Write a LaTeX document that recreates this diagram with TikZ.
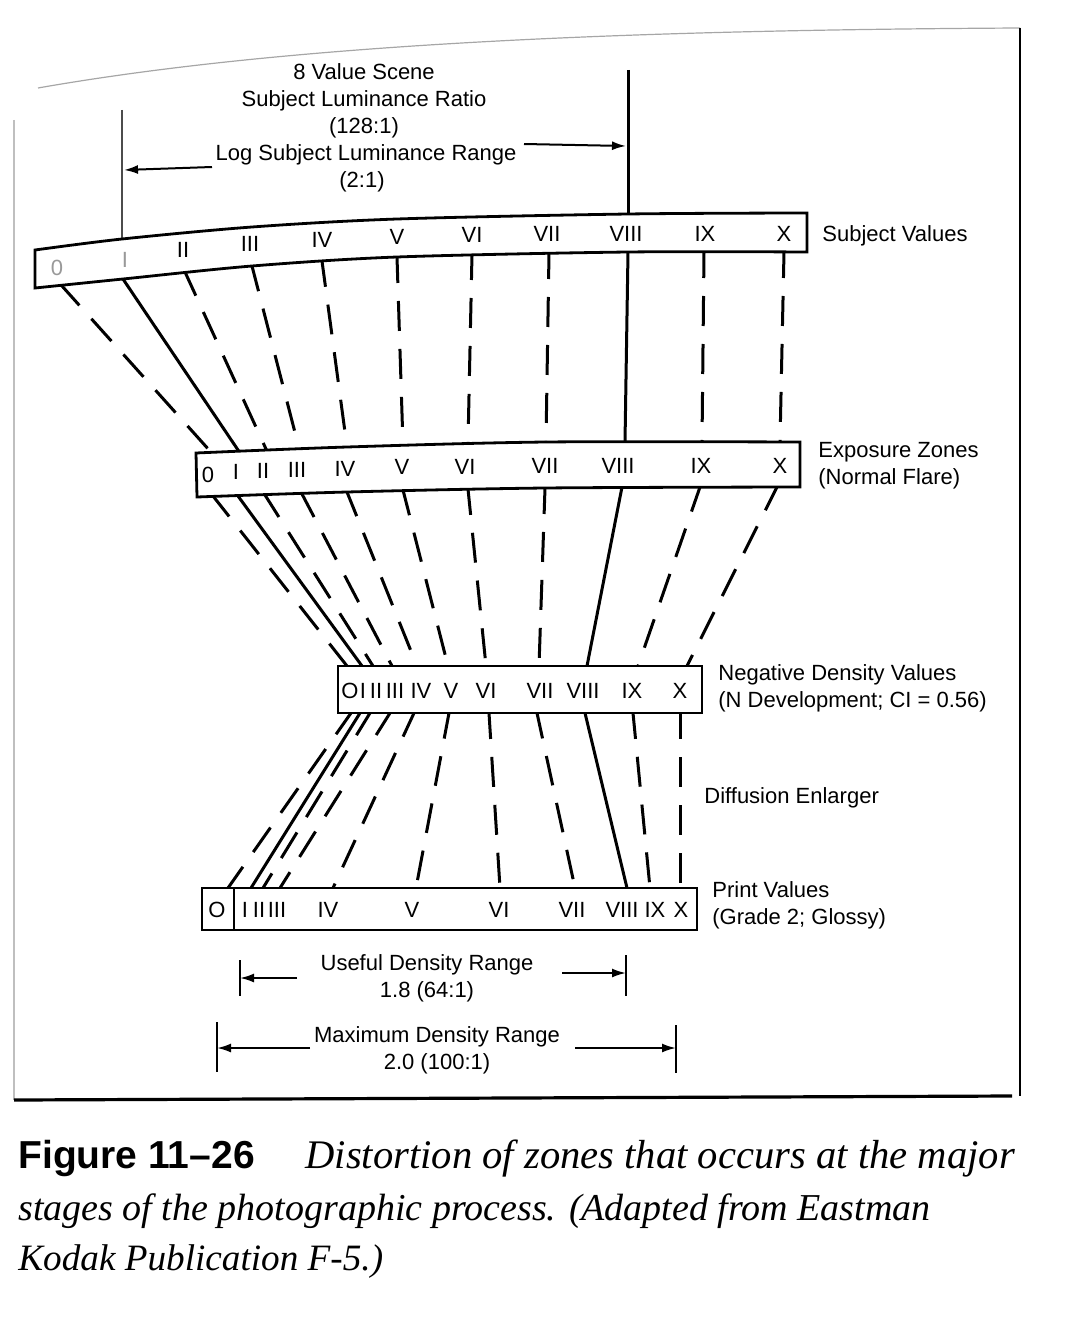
\documentclass[tikz,border=0pt]{standalone}
\usepackage{fontspec}
\setmainfont{Liberation Serif}
\setsansfont{Liberation Sans}
\usetikzlibrary{arrows.meta}

\begin{document}
\begin{tikzpicture}[
    x=0.5pt, y=-0.5pt,
    every node/.style={font=\sffamily\fontsize{11}{13.5}\selectfont, inner sep=1pt},
    bar/.style={draw=black, line width=1.4pt, fill=white},
    solidzone/.style={line width=1.5pt, shorten <=-2pt, shorten >=-2pt},
    dashzone/.style={solidzone, dash pattern=on 15pt off 9pt},
    dim/.style={line width=1pt},
    dimarrow/.style={dim, -{Latex[length=7pt,width=4.5pt]}},
    sidetext/.style={anchor=west, align=left},
    faded/.style={text=black!40}
]
\useasboundingbox (0,0) rectangle (1080,1343);

% page frame
\draw[black!35, line width=0.6pt] (38,88) .. controls (300,42) and (650,30) .. (1020,28);
\draw[line width=1pt] (1020,28) -- (1020,1096);
\draw[black!25, line width=0.6pt] (14,120) -- (14,1100);
\draw[line width=1.6pt] (14,1100) -- (1012,1096);

% tick points on the bars
\foreach \x/\y [count=\i from 0] in {62/286, 123/279, 185/272, 252/266, 322/261, 397/257, 472/254, 549/253, 628/252, 704/252, 784/252}
    \coordinate (subj\i) at (\x,\y);
\foreach \x/\y [count=\i from 0] in {210/451, 238/450, 266/449, 299/448, 347/447, 403/445, 468/443, 546/442, 625/442, 702/442, 780/442}
    \coordinate (expT\i) at (\x,\y);
\foreach \x/\y [count=\i from 0] in {213/496, 238/496, 265/495, 302/494, 347/492, 403/490, 468/489, 545/488, 622/487, 700/487, 777/487}
    \coordinate (expB\i) at (\x,\y);
\foreach \x [count=\i from 0] in {347, 362, 373, 392, 417, 448, 486, 539, 587, 638, 687}
    \coordinate (negT\i) at (\x,666);
\foreach \x [count=\i from 0] in {351, 360, 370, 390, 414, 449, 489, 537, 585, 633, 680}
    \coordinate (negB\i) at (\x,713);
\foreach \x [count=\i from 0] in {228, 251, 263, 280, 333, 416, 500, 575, 627, 650, 680}
    \coordinate (prt\i) at (\x,888);

% zone connectors
\foreach \i/\kind in {0/dashzone, 1/solidzone, 2/dashzone, 3/dashzone, 4/dashzone, 5/dashzone,
                      6/dashzone, 7/dashzone, 8/solidzone, 9/dashzone, 10/dashzone} {
    \draw[\kind] (subj\i) -- (expT\i);
    \draw[\kind] (expB\i) -- (negT\i);
    \draw[\kind] (negB\i) -- (prt\i);
}

% range lines above the subject bar
\coordinate (lowTop) at (122,110);
\coordinate (lowBar) at (122,240);
\coordinate (highTop) at (628,70);
\coordinate (highBar) at (628,216);
\draw[black!70, line width=0.8pt] (lowTop) -- (lowBar);
\draw[line width=1.5pt] (highTop) -- (highBar);

% bars
\draw[bar] plot[smooth] coordinates {(35,250) (122,239) (252,227) (397,219) (628,214) (807,213)}
    -- plot[smooth] coordinates {(807,252) (628,252) (397,257) (252,266) (123,279) (35,288)} -- cycle;
\draw[bar] plot[smooth] coordinates {(196,453) (347,447) (546,442) (800,442)}
    -- plot[smooth] coordinates {(800,487) (545,488) (347,492) (197,497)} -- cycle;
\draw[bar] (338,666) rectangle (702,713);
\draw[bar] (202,888) rectangle (697,930);
\draw[line width=1.2pt] (234,888) -- (234,930);

% zone numerals
\node[faded] (subjlab0) at (57,268) {0};
\node[faded] (subjlab1) at (125,260) {I};
\foreach \x/\y/\t [count=\i from 2] in {183/250/II, 250/244/III, 322/240/IV, 397/237/V, 472/235/VI,
                                       547/234/VII, 626/234/VIII, 705/234/IX, 784/234/X}
    \node (subjlab\i) at (\x,\y) {\t};
\foreach \x/\y/\t [count=\i from 0] in {208/475/0, 236/472/I, 263/471/II, 297/470/III, 345/469/IV, 402/467/V,
                                       465/467/VI, 545/466/VII, 618/466/VIII, 701/466/IX, 780/466/X}
    \node (explab\i) at (\x,\y) {\t};
\foreach \x/\t [count=\i from 0] in {350/O, 363/I, 376/II, 395/III, 421/IV, 451/V, 486/VI, 540/VII, 583/VIII, 632/IX, 680/X}
    \node (neglab\i) at (\x,691) {\t};
\foreach \x/\t [count=\i from 0] in {217/O, 245/I, 259/II, 277/III, 328/IV, 412/V, 499/VI, 572/VII, 622/VIII, 655/IX, 681/X}
    \node (prtlab\i) at (\x,910) {\t};

% stage names
\node[sidetext] (subjname) at (820,236) {Subject Values};
\node[sidetext] (expname) at (816,466) {Exposure Zones\\(Normal Flare)};
\node[sidetext] (negname) at (716,688) {Negative Density Values\\(N Development; CI = 0.56)};
\node[sidetext] (enlname) at (702,798) {Diffusion Enlarger};
\node[sidetext] (prtname) at (710,905) {Print Values\\(Grade 2; Glossy)};

% subject luminance range
\node[align=center] (ratio) at (364,101) {8 Value Scene\\Subject Luminance Ratio\\(128:1)};
\node (logrange) at (366,155) {Log Subject Luminance Range};
\node (logval) at (362,182) {(2:1)};
\coordinate (logL1) at (212,167);
\coordinate (logL2) at (124,170);
\coordinate (logR1) at (524,144);
\coordinate (logR2) at (626,146);
\draw[dimarrow] (logL1) -- (logL2);
\draw[dimarrow] (logR1) -- (logR2);

% density ranges of the print
\node[align=center] (useful) at (427,978) {Useful Density Range\\1.8 (64:1)};
\coordinate (usefulLT) at (240,960);
\coordinate (usefulLB) at (240,996);
\coordinate (usefulRT) at (626,955);
\coordinate (usefulRB) at (626,996);
\draw[dim] (usefulLT) -- (usefulLB);
\draw[dim] (usefulRT) -- (usefulRB);
\draw[dimarrow] (297,978) -- (usefulLT |- 0,978);
\draw[dimarrow] (562,973) -- (usefulRT |- 0,973);

\node[align=center] (maximum) at (437,1050) {Maximum Density Range\\2.0 (100:1)};
\coordinate (maxLT) at (217,1022);
\coordinate (maxLB) at (217,1072);
\coordinate (maxRT) at (676,1025);
\coordinate (maxRB) at (676,1073);
\draw[dim] (maxLT) -- (maxLB);
\draw[dim] (maxRT) -- (maxRB);
\draw[dimarrow] (310,1048) -- (maxLT |- 0,1048);
\draw[dimarrow] (575,1048) -- (maxRT |- 0,1048);

% caption
\node[anchor=base west, inner sep=0pt] (cap1) at (18,1168)
    {\fontsize{19.5}{26}\selectfont\textbf{Figure 11–26}\hspace{1.3em}\rmfamily\itshape\fontsize{20.3}{26}\selectfont Distortion of zones that occurs at the major};
\node[anchor=base west, inner sep=0pt] (cap2) at (18,1220)
    {\fontsize{19}{26}\selectfont\rmfamily\itshape stages of the photographic process. (Adapted from Eastman};
\node[anchor=base west, inner sep=0pt] (cap3) at (18,1270)
    {\fontsize{18.6}{26}\selectfont\rmfamily\itshape Kodak Publication F-5.)};
\end{tikzpicture}
\end{document}
